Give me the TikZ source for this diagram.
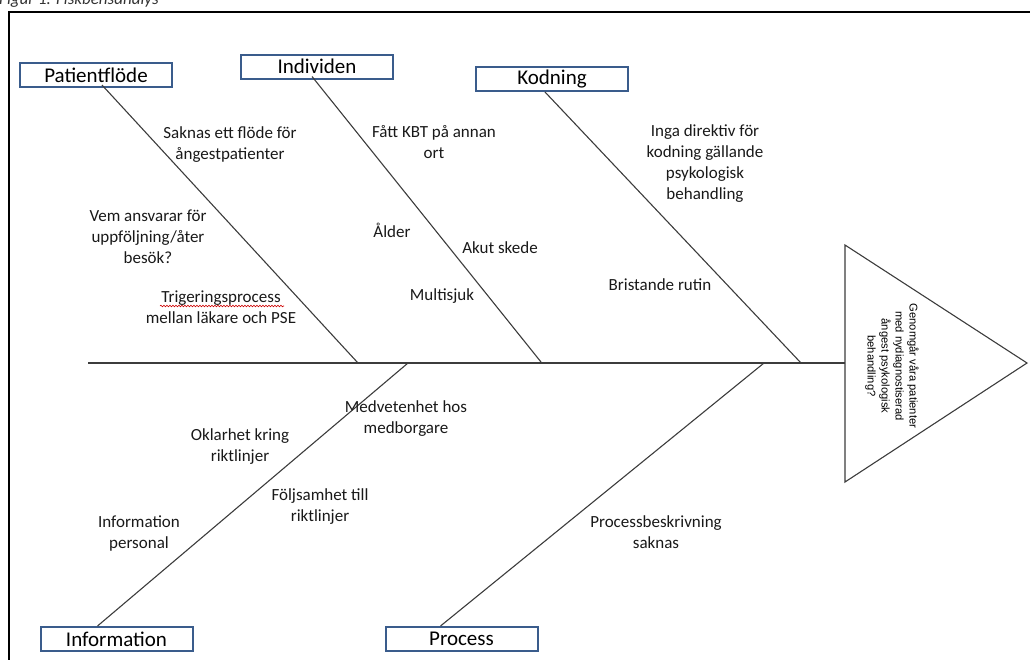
\documentclass[tikz,border=0pt]{standalone}
\usepackage{fontspec}
\setmainfont{Carlito}
\newfontfamily\arialf{Liberation Sans}
\usetikzlibrary{calc,decorations.pathmorphing}
\definecolor{boxblue}{RGB}{58,92,140}
\definecolor{bone}{RGB}{60,60,60}
\tikzset{
  catbox/.style={draw=boxblue,line width=2pt,fill=white,minimum width=152pt,minimum height=24pt,inner sep=0pt,font=\fontsize{21}{24}\selectfont},
  cause/.style={align=center,inner sep=0pt,font=\fontsize{17}{21}\selectfont,text=black!90},
  boneline/.style={draw=bone,line width=1.1pt},
  frame/.style={draw=black,line width=2pt}
}
\begin{document}
\begin{tikzpicture}[x=1pt,y=-1pt]
\useasboundingbox (0,0) rectangle (1030,659);
% caption, cut off at the top as in the source
\node[anchor=base west,inner sep=0pt,font=\fontsize{17}{19}\selectfont\itshape,text=black!80] (cap) at (-1,4) {Figur 1. Fiskbensanalys};
% frame
\draw[frame] (9,700) -- (9,12) -- (1100,12);
% head
\coordinate (T1) at (845,245);
\coordinate (T2) at (1027,363);
\coordinate (T3) at (845,482);
\draw[boneline] (T1) -- (T2) -- (T3) -- cycle;
\node[rotate=-90,align=center,inner sep=0pt,font=\arialf\fontsize{11.2}{14}\selectfont] (head) at (892,366)
  {Genomgår våra patienter\\med nydiagnostiserad\\ångest psykologisk\\behandling?};
% spine
\coordinate (S0) at (88,363);
\coordinate (S1) at (845,363);
\draw[boneline] (S0) -- (S1);
% spine joints
\coordinate (jPF) at (358,363);
\coordinate (jIN) at (541,362);
\coordinate (jKO) at (801,363);
\coordinate (jINF) at (408,363);
\coordinate (jPR) at (764,363);
% category boxes
\node[catbox] (pf) at (96,75) {Patientflöde};
\node[catbox] (ind) at (317,66.5) {Individen};
\node[catbox] (kod) at (552,79) {Kodning};
\node[catbox] (inf) at (116.5,639) {Information};
\node[catbox] (pro) at (461.5,639) {Process};
% bones
\draw[boneline] ([xshift=6pt,yshift=3pt]pf.south) -- (jPF);
\draw[boneline] ([xshift=-5pt,yshift=3pt]ind.south) -- (jIN);
\draw[boneline] ([xshift=-7pt]kod.south) -- (jKO);
\draw[boneline] ([xshift=-19pt]inf.north) -- (jINF);
\draw[boneline] ([xshift=-21pt]pro.north) -- (jPR);
% causes
\node[cause] (c1) at (230,145) {Saknas ett flöde för\\ångestpatienter};
\node[cause] (c2) at (148,237) {Vem ansvarar för\\uppföljning/åter\\besök?};
\node[cause] (c3) at (221,307) {Trigeringsprocess\\mellan läkare och PSE};
\draw[red!80!black,line width=0.6pt,decorate,decoration={snake,amplitude=0.8pt,segment length=3pt}] (160,306) -- (284,306);
\node[cause] (c4) at (434,142) {Fått KBT på annan\\ort};
\node[cause] (c5) at (392,230) {Ålder};
\node[cause] (c6) at (500,248) {Akut skede};
\node[cause] (c7) at (442,296) {Multisjuk};
\node[cause] (c8) at (705,164) {Inga direktiv för\\kodning gällande\\psykologisk\\behandling};
\node[cause] (c9) at (660,285) {Bristande rutin};
\node[cause] (c10) at (406,419) {Medvetenhet hos\\medborgare};
\node[cause] (c11) at (240,447) {Oklarhet kring\\riktlinjer};
\node[cause] (c12) at (320,507) {Följsamhet till\\riktlinjer};
\node[cause] (c13) at (139,533) {Information\\personal};
\node[cause] (c14) at (656,532) {Processbeskrivning\\saknas};
\end{tikzpicture}
\end{document}
